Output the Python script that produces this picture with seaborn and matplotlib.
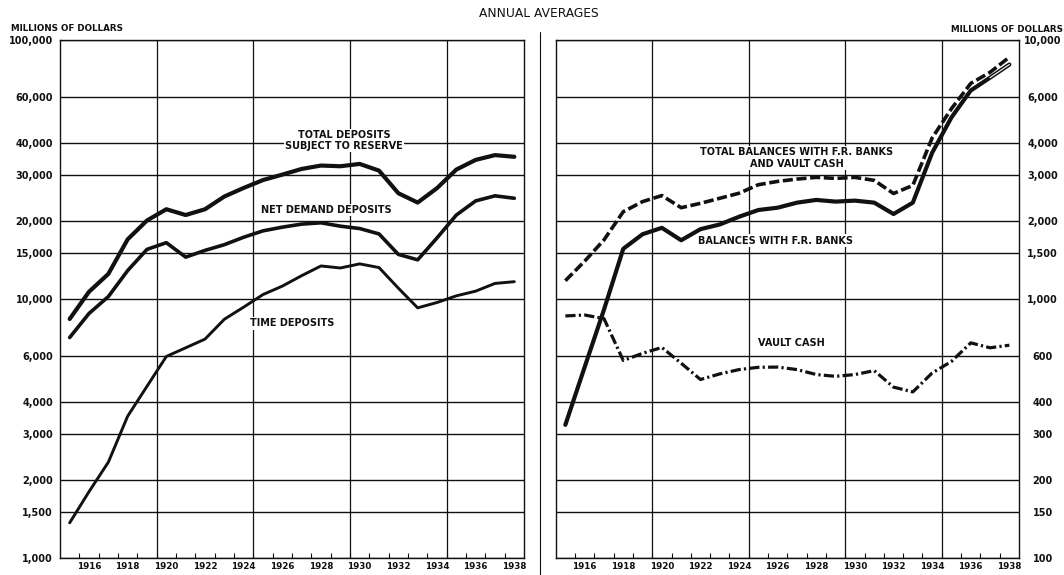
import matplotlib
matplotlib.use("Agg")
import matplotlib.pyplot as plt
import matplotlib.lines as mlines
from matplotlib.ticker import FixedLocator, FixedFormatter, NullFormatter
import numpy as np
import pandas as pd
import seaborn as sns

# ---------------- data (annual averages, millions of dollars) ----------------
years = list(range(1915, 1939))

total_deposits = [8360, 10650, 12480, 16980, 20080, 22190, 21080, 22190, 24850, 26820,
                  28770, 30200, 31760, 32730, 32530, 33210, 31290, 25590, 23550, 26770,
                  31580, 34420, 35920, 35380]
net_demand = [7090, 8780, 10200, 12860, 15530, 16480, 14490, 15390, 16190, 17300,
              18310, 18920, 19440, 19670, 19090, 18690, 17820, 14850, 14150, 17190,
              21080, 23900, 25000, 24470]
time_deposits = [1364, 1799, 2339, 3522, 4594, 5990, 6470, 6990, 8340, 9290,
                 10390, 11200, 12290, 13400, 13160, 13650, 13210, 11000, 9230, 9680,
                 10270, 10710, 11470, 11650]

total_balances = [1175, 1398, 1689, 2171, 2375, 2506, 2250, 2339, 2447, 2559,
                  2760, 2843, 2902, 2947, 2920, 2947, 2869, 2553, 2743, 4183,
                  5428, 6796, 7502, 8585]
fr_balances = [326, 545, 908, 1561, 1777, 1881, 1684, 1859, 1938, 2076,
               2204, 2250, 2353, 2411, 2375, 2396, 2353, 2127, 2353, 3666,
               5021, 6380, 7153, 8039]
vault_cash = [859, 866, 839, 578, 616, 649, 564, 488, 513, 533,
              544, 545, 533, 510, 502, 510, 528, 456, 437, 517,
              573, 676, 647, 662]

left_ticks = [1000, 1500, 2000, 3000, 4000, 6000, 10000, 15000, 20000, 30000, 40000, 60000, 100000]
left_tick_labels = ["1,000", "1,500", "2,000", "3,000", "4,000", "6,000", "10,000",
                    "15,000", "20,000", "30,000", "40,000", "60,000", "100,000"]
right_ticks = [100, 150, 200, 300, 400, 600, 1000, 1500, 2000, 3000, 4000, 6000, 10000]
right_tick_labels = ["100", "150", "200", "300", "400", "600", "1,000", "1,500",
                     "2,000", "3,000", "4,000", "6,000", "10,000"]
year_labels = [str(y) for y in range(1916, 1939, 2)]

# ---------------- style ----------------
sns.set_theme(style="white")
plt.rcParams["font.family"] = ["DejaVu Sans"]

W, H = 1064, 575
fig = plt.figure(figsize=(W / 100, H / 100), dpi=100)
fig.patch.set_facecolor("white")

ax_l = fig.add_axes([60 / W, 1 - 557.7 / H, 464 / W, 517.7 / H])
ax_r = fig.add_axes([555.7 / W, 1 - 557.7 / H, 463.3 / W, 517.7 / H])

df = pd.DataFrame({
    "x": [y + 0.5 for y in years],
    "total_deposits": total_deposits,
    "net_demand": net_demand,
    "time_deposits": time_deposits,
    "total_balances": total_balances,
    "fr_balances": fr_balances,
    "vault_cash": vault_cash,
})

K = "#111111"
# left panel
sns.lineplot(data=df, x="x", y="total_deposits", ax=ax_l, color=K, lw=3.0,
             solid_joinstyle="round", solid_capstyle="round")
sns.lineplot(data=df, x="x", y="net_demand", ax=ax_l, color=K, lw=2.6,
             solid_joinstyle="round", solid_capstyle="round")
sns.lineplot(data=df, x="x", y="time_deposits", ax=ax_l, color=K, lw=2.1,
             solid_joinstyle="round", solid_capstyle="round")
# right panel
sns.lineplot(data=df, x="x", y="total_balances", ax=ax_r, color=K, lw=2.6,
             linestyle=(0, (2.8, 1.0)))
sns.lineplot(data=df, x="x", y="fr_balances", ax=ax_r, color=K, lw=3.0,
             solid_joinstyle="round", solid_capstyle="round")
sns.lineplot(data=df.iloc[-2:], x="x", y="fr_balances", ax=ax_r, color="white", lw=0.8)
sns.lineplot(data=df, x="x", y="vault_cash", ax=ax_r, color=K, lw=2.3,
             linestyle=(0, (3.2, 1.0, 0.7, 1.0)))

for ax, ticks, labels, lims in [(ax_l, left_ticks, left_tick_labels, (1000, 100000)),
                                (ax_r, right_ticks, right_tick_labels, (100, 10000))]:
    ax.set_yscale("log")
    ax.set_ylim(*lims)
    ax.set_xlim(1915, 1939)
    ax.set_xlabel("")
    ax.set_ylabel("")
    ax.yaxis.set_major_locator(FixedLocator(ticks))
    ax.yaxis.set_major_formatter(FixedFormatter(labels))
    ax.yaxis.set_minor_locator(FixedLocator([]))
    ax.yaxis.set_minor_formatter(NullFormatter())
    ax.grid(axis="y", which="major", color=K, lw=1.0)
    for xv in [1920, 1925, 1930, 1935]:
        ax.axvline(xv, color=K, lw=0.9, zorder=1)
    # year labels at mid-year, tick marks at year boundaries
    ax.xaxis.set_major_locator(FixedLocator([int(s) + 0.5 for s in year_labels]))
    ax.xaxis.set_major_formatter(FixedFormatter(year_labels))
    ax.xaxis.set_minor_locator(FixedLocator(list(range(1916, 1939))))
    ax.tick_params(axis="x", which="major", length=0, pad=3, labelsize=6.3,
                   labelcolor=K)
    ax.tick_params(axis="x", which="minor", length=3.5, width=0.8, direction="in",
                   color=K, bottom=True)
    ax.tick_params(axis="y", which="major", length=0, labelsize=7, labelcolor=K)
    for lab in ax.get_xticklabels() + ax.get_yticklabels():
        lab.set_fontweight("bold")
    for sp in ax.spines.values():
        sp.set_visible(True)
        sp.set_color(K)
        sp.set_linewidth(1.0)
    ax.set_facecolor("white")

ax_l.tick_params(axis="y", pad=5)
ax_r.yaxis.tick_right()
ax_r.tick_params(axis="y", which="major", length=0, pad=17, labelsize=7)
for lab in ax_r.get_yticklabels():
    lab.set_horizontalalignment("center")
    lab.set_fontweight("bold")

# ---------------- annotations ----------------
ann = dict(ha="center", va="center", fontsize=7, fontweight="bold", color=K,
           bbox=dict(facecolor="white", edgecolor="none", pad=1.0), zorder=5,
           linespacing=1.15)
ax_l.text(1929.7, 40900, "TOTAL DEPOSITS\nSUBJECT TO RESERVE", **ann)
ax_l.text(1928.8, 22040, "NET DEMAND DEPOSITS", **ann)
ax_l.text(1927.0, 8045, "TIME DEPOSITS", **ann)
ax_r.text(1927.5, 3500, "TOTAL BALANCES WITH F.R. BANKS\nAND VAULT CASH", **ann)
ax_r.text(1926.4, 1678, "BALANCES WITH F.R. BANKS", **ann)
ax_r.text(1927.2, 677, "VAULT CASH", **ann)

fig.text(539 / W, 1 - 13.5 / H, "ANNUAL AVERAGES", ha="center", va="center",
         fontsize=8.8, color=K)
fig.text(11 / W, 1 - 28.5 / H, "MILLIONS OF DOLLARS", ha="left", va="center",
         fontsize=6.3, fontweight="bold", color=K)
fig.text(1063 / W, 1 - 30 / H, "MILLIONS OF DOLLARS", ha="right", va="center",
         fontsize=6.3, fontweight="bold", color=K)
fig.add_artist(mlines.Line2D([540 / W, 540 / W], [0, 1 - 32 / H], color=K, lw=0.8))

fig.savefig("out.png", dpi=100, facecolor="white")
